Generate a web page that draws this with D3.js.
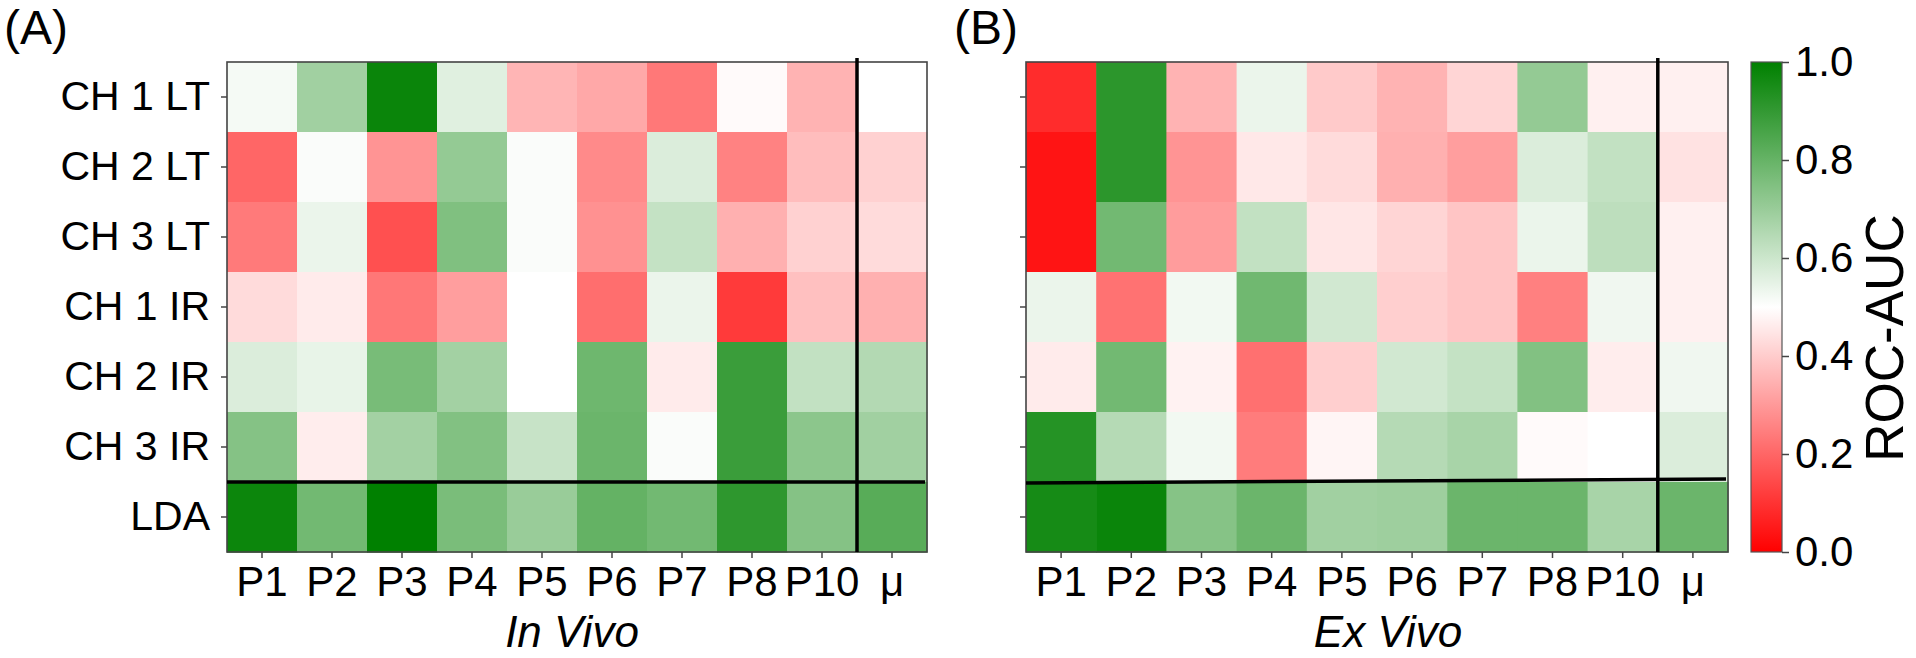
<!DOCTYPE html>
<html>
<head>
<meta charset="utf-8">
<script src="https://cdn.jsdelivr.net/npm/d3@7"></script>
<style>
  html, body { margin: 0; padding: 0; background: #fff; }
  svg { display: block; }
  text { font-family: "Liberation Sans", Arial, Helvetica, sans-serif; fill: #000; }
</style>
</head>
<body>
<svg id="chart" width="1916" height="658"></svg>
<script>
// ---------------- DATA ----------------
const columns = ["P1", "P2", "P3", "P4", "P5", "P6", "P7", "P8", "P10", "μ"];
const rows = ["CH 1 LT", "CH 2 LT", "CH 3 LT", "CH 1 IR", "CH 2 IR", "CH 3 IR", "LDA"];

// In Vivo ROC-AUC (rows x columns)
const inVivo = [
  [0.52, 0.685, 0.98, 0.56, 0.355, 0.33, 0.235, 0.49, 0.35, 0.50],
  [0.20, 0.51, 0.29, 0.71, 0.51, 0.27, 0.57, 0.255, 0.37, 0.41],
  [0.24, 0.54, 0.157, 0.75, 0.51, 0.285, 0.615, 0.345, 0.41, 0.43],
  [0.43, 0.46, 0.233, 0.31, 0.50, 0.216, 0.54, 0.114, 0.377, 0.345],
  [0.57, 0.545, 0.765, 0.68, 0.50, 0.785, 0.46, 0.886, 0.62, 0.65],
  [0.74, 0.465, 0.68, 0.745, 0.61, 0.79, 0.51, 0.886, 0.725, 0.685],
  [0.976, 0.776, 1.00, 0.76, 0.70, 0.804, 0.776, 0.91, 0.74, 0.827]
];

// Ex Vivo ROC-AUC (rows x columns)
const exVivo = [
  [0.086, 0.914, 0.35, 0.54, 0.397, 0.35, 0.418, 0.71, 0.47, 0.47],
  [0.04, 0.914, 0.29, 0.455, 0.43, 0.345, 0.31, 0.57, 0.62, 0.443],
  [0.04, 0.776, 0.306, 0.62, 0.45, 0.418, 0.386, 0.54, 0.63, 0.47],
  [0.54, 0.224, 0.525, 0.78, 0.59, 0.406, 0.386, 0.25, 0.53, 0.47],
  [0.46, 0.776, 0.475, 0.22, 0.405, 0.59, 0.615, 0.745, 0.465, 0.53],
  [0.927, 0.645, 0.525, 0.243, 0.48, 0.645, 0.67, 0.49, 0.50, 0.57],
  [0.957, 0.98, 0.737, 0.79, 0.685, 0.69, 0.79, 0.79, 0.67, 0.79]
];

const colorbarTicks = [0.0, 0.2, 0.4, 0.6, 0.8, 1.0];
const panelLetters = ["(A)", "(B)"];
const panelTitles = ["In Vivo", "Ex Vivo"];
const colorbarLabel = "ROC-AUC";

// ---------------- LAYOUT ----------------
const svg = d3.select("#chart");
const FONT = 42;
const yTop = 62, yBottom = 552;
const panels = [
  { data: inVivo, x0: 227, x1: 927, showY: true, letterX: 4, titleShift: -5, title: panelTitles[0], letter: panelLetters[0], tilt: [0, 0] },
  { data: exVivo, x0: 1026, x1: 1728, showY: false, letterX: 954, titleShift: 11, title: panelTitles[1], letter: panelLetters[1], tilt: [1, -3] }
];

const color = d3.scaleLinear()
  .domain([0, 0.5, 1])
  .range(["#ff0000", "#ffffff", "#008000"])
  .clamp(true);

const y = d3.scaleBand().domain(rows).range([yTop, yBottom]).padding(0);

panels.forEach(p => {
  const x = d3.scaleBand().domain(columns).range([p.x0, p.x1]).padding(0);
  const g = svg.append("g");

  // cells
  const cells = [];
  p.data.forEach((r, ri) => r.forEach((v, ci) => cells.push({ row: rows[ri], col: columns[ci], v })));
  g.selectAll("rect.cell").data(cells).enter().append("rect")
    .attr("class", "cell")
    .attr("x", d => x(d.col))
    .attr("y", d => y(d.row))
    .attr("width", x.bandwidth() + 0.6)
    .attr("height", y.bandwidth() + 0.6)
    .attr("fill", d => color(d.v));

  // frame
  g.append("rect")
    .attr("x", p.x0).attr("y", yTop)
    .attr("width", p.x1 - p.x0).attr("height", yBottom - yTop)
    .attr("fill", "none").attr("stroke", "#444").attr("stroke-width", 1.6);

  // separators
  const ySep = y("LDA");
  const xSep = x("μ");
  g.append("line")
    .attr("x1", p.x0).attr("x2", p.x1 - 2)
    .attr("y1", ySep + p.tilt[0]).attr("y2", ySep + p.tilt[1])
    .attr("stroke", "#000").attr("stroke-width", 3.5);
  g.append("line")
    .attr("x1", xSep).attr("x2", xSep)
    .attr("y1", yTop - 4).attr("y2", yBottom)
    .attr("stroke", "#000").attr("stroke-width", 3.5);

  // x axis
  const xAxis = g.append("g")
    .attr("transform", `translate(0,${yBottom})`)
    .call(d3.axisBottom(x).tickSize(6).tickPadding(8));
  xAxis.select(".domain").remove();
  xAxis.selectAll(".tick line").attr("stroke", "#444").attr("stroke-width", 1.5);
  xAxis.selectAll(".tick text")
    .style("font-size", FONT + "px")
    .attr("fill", "#000")
    .attr("dy", "0.72em");

  // y axis
  const yAxis = g.append("g")
    .attr("transform", `translate(${p.x0},0)`)
    .call(d3.axisLeft(y).tickSize(6).tickPadding(11));
  yAxis.select(".domain").remove();
  yAxis.selectAll(".tick line").attr("stroke", "#444").attr("stroke-width", 1.5);
  if (p.showY) {
    yAxis.selectAll(".tick text")
      .style("font-size", "41px")
      .attr("fill", "#000");
  } else {
    yAxis.selectAll(".tick text").remove();
  }

  // panel title (italic)
  g.append("text")
    .attr("x", (p.x0 + p.x1) / 2 + p.titleShift)
    .attr("y", 647)
    .attr("text-anchor", "middle")
    .style("font-size", "44px")
    .style("font-style", "italic")
    .text(p.title);

  // panel letter
  g.append("text")
    .attr("x", p.letterX)
    .attr("y", 44)
    .style("font-size", "48px")
    .text(p.letter);
});

// ---------------- COLORBAR ----------------
const cbX = 1751, cbW = 31;
const cbScale = d3.scaleLinear().domain([0, 1]).range([yBottom, yTop]);
const defs = svg.append("defs");
const grad = defs.append("linearGradient")
  .attr("id", "cbgrad").attr("x1", "0").attr("y1", "1").attr("x2", "0").attr("y2", "0");
d3.range(0, 1.0001, 0.05).forEach(t => {
  grad.append("stop").attr("offset", t).attr("stop-color", color(t));
});
svg.append("rect")
  .attr("x", cbX).attr("y", yTop)
  .attr("width", cbW).attr("height", yBottom - yTop)
  .attr("fill", "url(#cbgrad)")
  .attr("stroke", "#555").attr("stroke-width", 1.2);

const cbAxis = svg.append("g")
  .attr("transform", `translate(${cbX + cbW},0)`)
  .call(d3.axisRight(cbScale).tickValues(colorbarTicks).tickFormat(d3.format(".1f")).tickSize(7).tickPadding(6));
cbAxis.select(".domain").remove();
cbAxis.selectAll(".tick line").attr("stroke", "#444").attr("stroke-width", 1.5);
cbAxis.selectAll(".tick text").style("font-size", FONT + "px").attr("fill", "#000");

svg.append("text")
  .attr("transform", `translate(1903,338) rotate(-90)`)
  .attr("text-anchor", "middle")
  .style("font-size", "53px")
  .text(colorbarLabel);
</script>
</body>
</html>
